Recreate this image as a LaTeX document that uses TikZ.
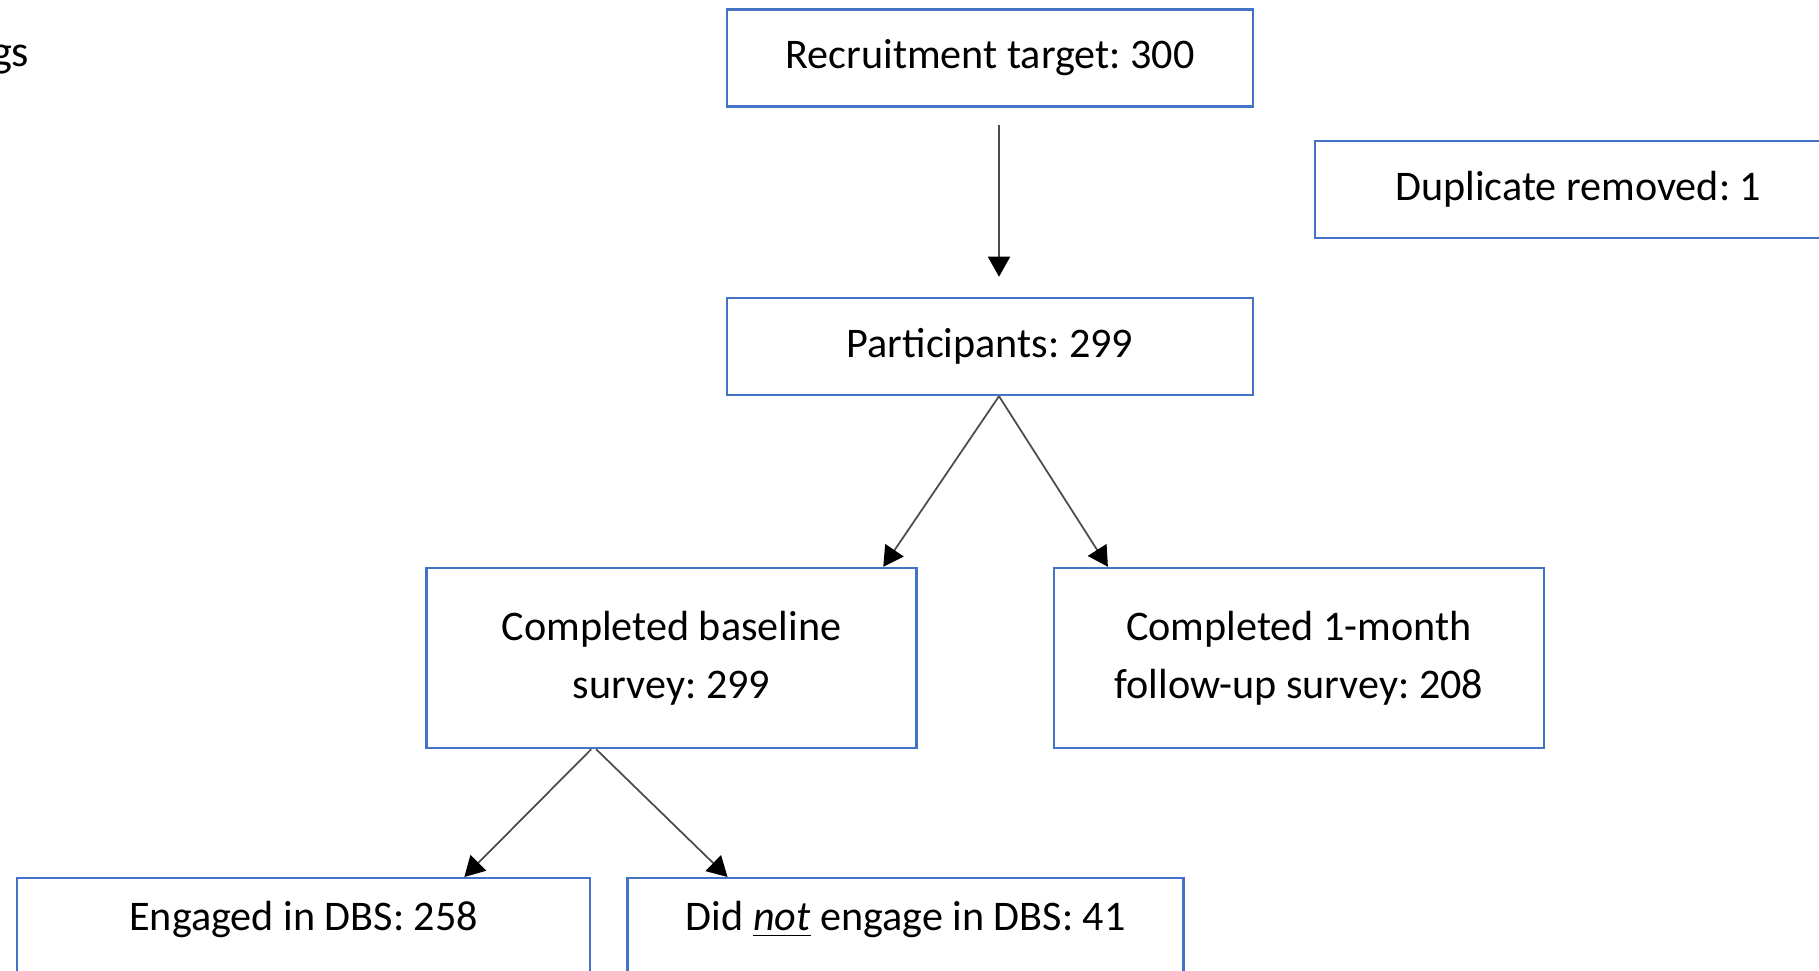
\documentclass[tikz,border=0pt]{standalone}
\usepackage{fontspec}
\setmainfont{Carlito}
\frenchspacing
\usepackage{tikz}
\usetikzlibrary{arrows.meta, positioning, calc}
\usepackage{xcolor}
\definecolor{boxblue}{RGB}{68,114,196}
\tikzset{
    stage/.style={
        rectangle, draw=boxblue, line width=0.7pt, fill=white,
        minimum width=5.26cm, minimum height=0.97cm,
        font=\fontsize{12}{16.5}\selectfont, align=center, inner sep=0pt
    },
    split/.style={
        stage, minimum width=4.9cm, minimum height=1.8cm
    },
    cutoff/.style={
        stage, text height=2.9mm, text depth=14mm, inner ysep=2.3mm
    },
    arrow/.style={-{Triangle[width=2.2mm, length=2mm, black]}, line width=0.5pt, draw=black!70}
}

\begin{document}
\begin{tikzpicture}[node distance=1.89cm and 1.35cm]
    \useasboundingbox (0,0) rectangle (18.19,-9.70);

    \node[anchor=base east, inner sep=0pt, font=\fontsize{12.6}{15}\selectfont] (title) at (0.30,-0.66) {gs};

    \node[stage] (recruit) at (9.90,-0.58) {Recruitment target: 300};
    \node[stage, anchor=north west] (dup) at (13.14,-1.40) {Duplicate removed: 1};
    \node[stage, below=of recruit] (part) {Participants: 299};
    \node[split] (base) at (6.715,-6.58) {Completed baseline\\survey: 299};
    \node[split, right=of base] (follow) {Completed 1-month\\follow-up survey: 208};
    \node[cutoff, minimum width=5.73cm, anchor=north west] (engaged) at (0.16,-8.77) {Engaged in DBS: 258};
    \node[cutoff, minimum width=5.56cm, right=0.35cm of engaged] (noengage) {Did \underline{\textit{not}} engage in DBS: 41};

    \draw[arrow] ([xshift=0.9mm, yshift=-1.7mm]recruit.south) -- ([xshift=0.9mm, yshift=2mm]part.north);
    \draw[arrow] ([xshift=0.9mm]part.south) -- ($(base.north west)!0.93!(base.north east)$);
    \draw[arrow] ([xshift=0.9mm]part.south) -- ($(follow.north west)!0.112!(follow.north east)$);
    \draw[arrow] ($(base.south west)!0.337!(base.south east)$) -- ($(engaged.north west)!0.779!(engaged.north east)$);
    \draw[arrow] ($(base.south west)!0.347!(base.south east)$) -- ($(noengage.north west)!0.181!(noengage.north east)$);
\end{tikzpicture}
\end{document}
